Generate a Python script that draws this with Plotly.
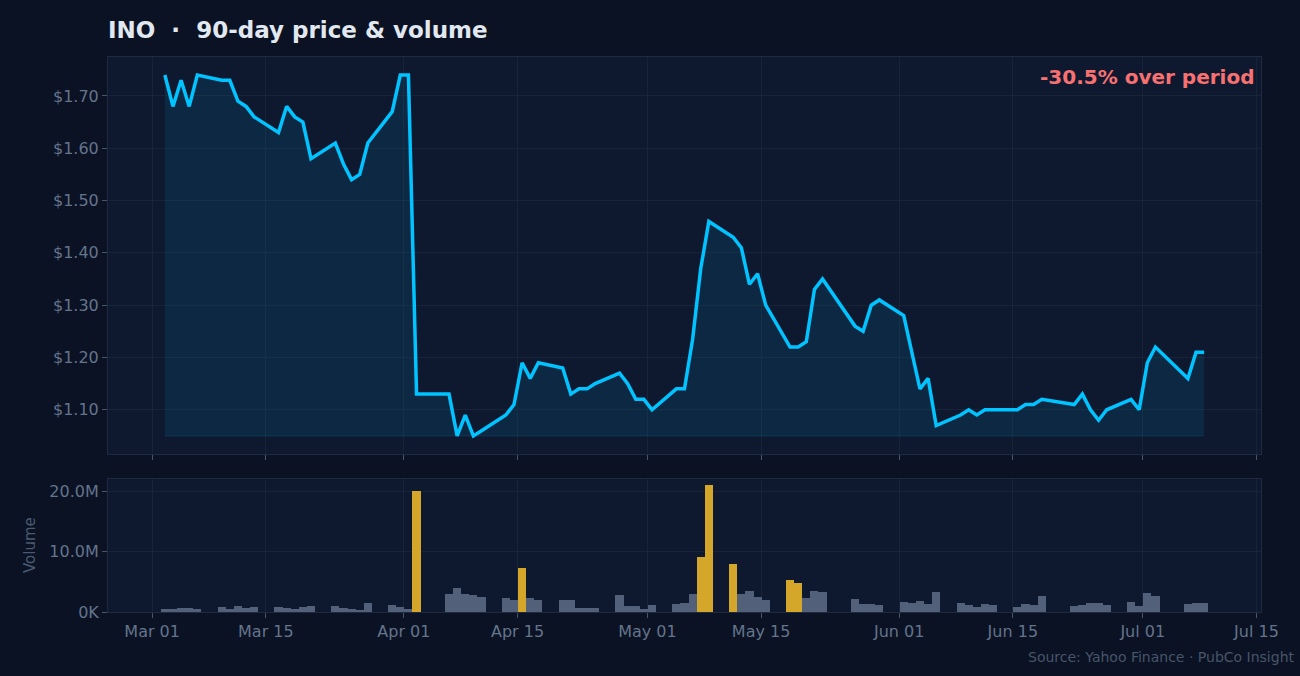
import plotly.graph_objects as go

# ---------------- data ----------------
YEAR = 2026
trading_days = {
    "03": [2, 3, 4, 5, 6, 9, 10, 11, 12, 13, 16, 17, 18, 19, 20, 23, 24, 25, 26, 27, 30, 31],
    "04": [1, 2, 6, 7, 8, 9, 10, 13, 14, 15, 16, 17, 20, 21, 22, 23, 24, 27, 28, 29, 30],
    "05": [1, 4, 5, 6, 7, 8, 11, 12, 13, 14, 15, 18, 19, 20, 21, 22, 26, 27, 28, 29],
    "06": [1, 2, 3, 4, 5, 8, 9, 10, 11, 12, 15, 16, 17, 18, 22, 23, 24, 25, 26, 29, 30],
    "07": [1, 2, 6, 7, 8],
}
dates = [f"{YEAR}-{m}-{d:02d} 13:30" for m, days in trading_days.items() for d in days]

close_price = [
    # March
    1.74, 1.68, 1.73, 1.68, 1.74, 1.73, 1.73, 1.69, 1.68, 1.66,
    1.63, 1.68, 1.66, 1.65, 1.58, 1.61, 1.57, 1.54, 1.55, 1.61,
    1.67, 1.74,
    # April
    1.74, 1.13, 1.13, 1.05, 1.09, 1.05, 1.06, 1.09, 1.11, 1.19,
    1.16, 1.19, 1.18, 1.13, 1.14, 1.14, 1.15, 1.17, 1.15, 1.12,
    1.12,
    # May
    1.10, 1.14, 1.14, 1.235, 1.37, 1.46, 1.43, 1.41, 1.34, 1.36,
    1.30, 1.22, 1.22, 1.23, 1.33, 1.35, 1.26, 1.25, 1.30, 1.31,
    # June
    1.28, 1.21, 1.14, 1.16, 1.07, 1.09, 1.10, 1.09, 1.10, 1.10,
    1.10, 1.11, 1.11, 1.12, 1.11, 1.13, 1.10, 1.08, 1.10, 1.12,
    1.10,
    # July
    1.19, 1.22, 1.16, 1.21, 1.21,
]

volume_m = [
    # March
    0.5, 0.5, 0.67, 0.67, 0.5, 0.83, 0.5, 1.0, 0.67, 0.83,
    0.83, 0.67, 0.5, 0.83, 1.0, 1.0, 0.67, 0.5, 0.33, 1.5,
    1.17, 0.83,
    # April
    0.5, 20.0, 3.0, 4.0, 3.0, 2.83, 2.5, 2.33, 2.0, 7.33,
    2.33, 2.0, 2.0, 2.0, 0.67, 0.67, 0.67, 2.83, 1.0, 1.0,
    0.5,
    # May
    1.17, 1.33, 1.5, 3.0, 9.17, 21.0, 8.0, 3.0, 3.5, 2.5,
    2.0, 5.33, 4.83, 2.33, 3.5, 3.33, 2.17, 1.33, 1.33, 1.17,
    # June
    1.67, 1.5, 1.83, 1.33, 3.33, 1.5, 1.17, 0.83, 1.33, 1.17,
    0.83, 1.33, 1.17, 2.67, 1.0, 1.17, 1.5, 1.5, 1.17, 1.67,
    1.0,
    # July
    3.17, 2.67, 1.33, 1.5, 1.5,
]
volume = [v * 1e6 for v in volume_m]

x_tick_dates = [f"{YEAR}-03-01", f"{YEAR}-03-15", f"{YEAR}-04-01", f"{YEAR}-04-15",
                f"{YEAR}-05-01", f"{YEAR}-05-15", f"{YEAR}-06-01", f"{YEAR}-06-15",
                f"{YEAR}-07-01", f"{YEAR}-07-15"]
price_ticks = [1.10, 1.20, 1.30, 1.40, 1.50, 1.60, 1.70]
vol_ticks = [0, 10e6, 20e6]
vol_tick_text = ["0K", "10.0M", "20.0M"]

ticker = "INO"
source_text = "Source: Yahoo Finance · PubCo Insight"

# ---------------- derived ----------------
pmin, pmax = min(close_price), max(close_price)
pad = (pmax - pmin) * 0.05
pct = (close_price[-1] / close_price[0] - 1) * 100
avg_vol = sum(volume) / len(volume)
bar_colors = ["#d4a62a" if v > 2 * avg_vol else "#526079" for v in volume]

# ---------------- style ----------------
PAPER = "#0a1224"
PLOT = "#0e1930"
GRID = "rgba(30,41,59,0.6)"
FRAME = "#1f2a40"
TICK = "#64748b"
FONT = "DejaVu Sans"
LINE = "#00c3ff"
TICK_SIZE = 16

fig = go.Figure()
fig.add_trace(go.Scatter(
    x=dates, y=[pmin] * len(dates), mode="lines",
    line=dict(color="rgba(0,195,255,0.12)", width=1),
    hoverinfo="skip", showlegend=False, xaxis="x", yaxis="y"))
fig.add_trace(go.Scatter(
    x=dates, y=close_price, mode="lines",
    line=dict(color=LINE, width=3.5),
    fill="tonexty", fillcolor="rgba(0,195,255,0.09)",
    showlegend=False, xaxis="x", yaxis="y", name="Close"))
fig.add_trace(go.Bar(
    x=dates, y=volume, marker=dict(color=bar_colors, line=dict(width=0)),
    width=86400000, showlegend=False, xaxis="x2", yaxis="y2", name="Volume"))

x_range = [f"{YEAR}-02-23 13:30", f"{YEAR}-07-15 13:30"]
common_x = dict(
    range=x_range, type="date", tickvals=x_tick_dates, tickformat="%b %d",
    ticks="outside", ticklen=5, tickcolor="#475569", tickwidth=1,
    showgrid=True, gridcolor=GRID, gridwidth=1,
    showline=True, mirror=True, linecolor=FRAME, linewidth=1,
    zeroline=False, tickfont=dict(family=FONT, size=TICK_SIZE, color=TICK),
)
fig.update_layout(
    width=1300, height=676,
    paper_bgcolor=PAPER, plot_bgcolor=PLOT,
    margin=dict(l=108, r=39, t=57, b=64),
    font=dict(family=FONT, color=TICK),
    bargap=0,
    title=dict(
        text=f"<b>{ticker}\u00a0\u00a0·\u00a0\u00a090-day price &amp; volume</b>",
        x=108 / 1300, xanchor="left", xref="container",
        y=1 - 30 / 676, yanchor="middle", yref="container",
        font=dict(family=FONT, size=23, color="#e2e8f0")),
    xaxis=dict(common_x, anchor="y", domain=[0, 1], showticklabels=False),
    xaxis2=dict(common_x, anchor="y2", domain=[0, 1], matches="x", showticklabels=True),
    yaxis=dict(
        domain=[0.2847, 1], range=[pmin - pad, pmax + pad],
        tickvals=price_ticks, ticktext=[f"${v:.2f}" for v in price_ticks],
        ticks="outside", ticklen=5, tickcolor="#475569",
        showgrid=True, gridcolor=GRID, showline=True, mirror=True,
        linecolor=FRAME, zeroline=False,
        tickfont=dict(family=FONT, size=TICK_SIZE, color=TICK)),
    yaxis2=dict(
        domain=[0, 0.2396], range=[0, max(volume) * 1.05],
        tickvals=vol_ticks, ticktext=vol_tick_text,
        ticks="outside", ticklen=5, tickcolor="#475569",
        showgrid=True, gridcolor=GRID, showline=True, mirror=True,
        linecolor=FRAME, zeroline=False, layer="above traces",
        tickfont=dict(family=FONT, size=TICK_SIZE, color=TICK)),
    annotations=[
        dict(text=f"<b>{pct:+.1f}% over period</b>".replace("+", ""),
             xref="x domain", yref="y domain", x=(1256 - 108) / 1153, y=0.985,
             xanchor="right", yanchor="top", showarrow=False,
             font=dict(family=FONT, size=20, color="#f87171")),
        dict(text="Volume", xref="paper", yref="paper",
             x=(30 - 108) / 1153, y=(612 - 545) / 555, textangle=-90,
             xanchor="center", yanchor="middle", showarrow=False,
             font=dict(family=FONT, size=15, color="#4b5a70")),
        dict(text=source_text, xref="paper", yref="paper",
             x=(1297 - 108) / 1153, y=-(657 - 612) / 555,
             xanchor="right", yanchor="middle", showarrow=False,
             font=dict(family=FONT, size=14, color="#475569")),
    ],
)

fig.write_html("out.html")
